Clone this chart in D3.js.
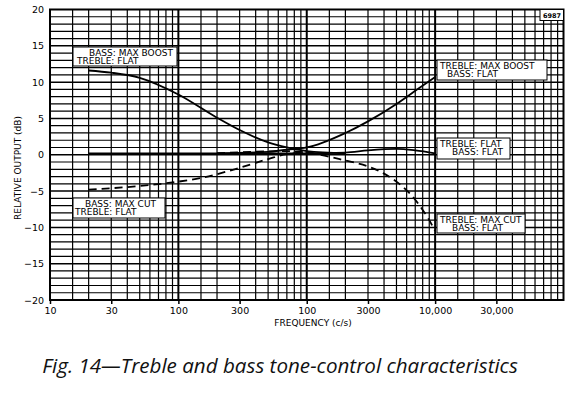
<!DOCTYPE html>
<html>
<head>
<meta charset="utf-8">
<script src="https://cdn.jsdelivr.net/npm/d3@7"></script>
<style>
  body { margin: 0; background: #fff; }
  svg { display: block; }
  .tick text { font-family: 'DejaVu Sans', sans-serif; font-size: 9.5px; fill: #000; }
  .lbl { font-family: 'DejaVu Sans', sans-serif; font-size: 9px; fill: #000; }
  .caption { font-family: 'Open Sans', sans-serif; font-style: italic; font-size: 20.6px; fill: #111; }
</style>
</head>
<body>
<div id="chart"></div>
<script>
// frequency ticks + labels (as printed)
const freqTicks = [10, 30, 100, 300, 1000, 3000, 10000, 30000];
const freqLabels = ['10', '30', '100', '300', '100', '3000', '10,000', '30,000'];
const dbTicks = [20, 15, 10, 5, 0, -5, -10, -15, -20];

// curves (Hz, dB)
const flatFreq = [20, 100, 1000, 2000, 3000, 5000, 7000, 10000];
const flatDb = [0.2, 0.2, 0.2, 0.3, 0.6, 0.8, 0.6, 0.2];

const bassBoostFreq = [20, 30, 50, 100, 200, 300, 500, 700, 1000, 2000];
const bassBoostDb = [11.6, 11.3, 10.6, 8.3, 5.1, 3.4, 1.7, 1.0, 0.5, 0.2];

const trebleBoostFreq = [200, 500, 700, 1000, 2000, 3000, 5000, 7000, 10000];
const trebleBoostDb = [0.2, 0.4, 0.7, 1.0, 3.0, 4.6, 7.0, 8.8, 10.7];

const bassCutFreq = [20, 50, 100, 150, 300, 500, 700, 1000, 1500];
const bassCutDb = [-4.8, -4.3, -3.7, -3.2, -1.8, -0.6, 0.1, 0.3, 0.1];

const trebleCutFreq = [200, 700, 1000, 2000, 3000, 4000, 5000, 6000, 7000, 8000, 9000, 10000];
const trebleCutDb = [0.2, 0.5, 0.3, -0.8, -1.6, -2.6, -3.7, -4.9, -6.2, -7.6, -9.0, -10.5];

const notes = [
  { lines: ['BASS: MAX BOOST', 'TREBLE: FLAT'], x: 73, y: 47, w: 104, h: 19, indent: [16, 4] },
  { lines: ['TREBLE: MAX BOOST', 'BASS: FLAT'], x: 437, y: 60, w: 110, h: 20, indent: [3, 10] },
  { lines: ['TREBLE: FLAT', 'BASS: FLAT'], x: 437, y: 138, w: 73, h: 21, indent: [3, 15] },
  { lines: ['BASS: MAX CUT', 'TREBLE: FLAT'], x: 73, y: 198, w: 92, h: 20, indent: [12, 2] },
  { lines: ['TREBLE: MAX CUT', 'BASS: FLAT'], x: 437, y: 214, w: 88, h: 19, indent: [3, 15] },
];

const W = 571;
const H = 393;
const plotLeft = 50;
const plotRight = 563.5;
const plotTop = 9.5;
const plotBottom = 300;

const x = d3.scaleLog().domain([10, 100000]).range([plotLeft, plotRight]);
const y = d3.scaleLinear().domain([-20, 20]).range([plotBottom, plotTop]);

const svg = d3.select('#chart').append('svg').attr('width', W).attr('height', H);
svg.append('rect').attr('width', W).attr('height', H).attr('fill', '#fff');

// grid
const minor = [];
[10, 100, 1000, 10000].forEach(dec => {
  [1.5, 2, 3, 4, 5, 6, 7, 8, 9].forEach(m => minor.push(dec * m));
});
const $grid = svg.append('g').attr('stroke', '#000');
$grid.selectAll('.v').data(minor).join('line')
  .attr('x1', d => x(d)).attr('x2', d => x(d))
  .attr('y1', plotTop).attr('y2', plotBottom)
  .attr('stroke-width', 1.2);
$grid.selectAll('.dec').data([100, 1000, 10000]).join('line')
  .attr('x1', d => x(d)).attr('x2', d => x(d))
  .attr('y1', plotTop).attr('y2', plotBottom)
  .attr('stroke-width', 2);
$grid.selectAll('.h').data(d3.range(-19, 20)).join('line')
  .attr('x1', plotLeft).attr('x2', plotRight)
  .attr('y1', d => y(d)).attr('y2', d => y(d))
  .attr('stroke-width', d => (d % 5 === 0 ? 1.5 : 1.2));

// frame
svg.append('rect')
  .attr('x', plotLeft).attr('y', plotTop)
  .attr('width', plotRight - plotLeft).attr('height', plotBottom - plotTop)
  .attr('fill', 'none').attr('stroke', '#000').attr('stroke-width', 2);

// axes
const xAxis = d3.axisBottom(x)
  .tickValues(freqTicks)
  .tickFormat((d, i) => freqLabels[i])
  .tickSize(4)
  .tickPadding(3);
svg.append('g').attr('transform', `translate(0,${plotBottom})`).call(xAxis)
  .call(g => g.select('.domain').remove())
  .call(g => g.selectAll('.tick line').attr('stroke', '#000').attr('stroke-width', 1.5));

const yAxis = d3.axisLeft(y).tickValues(dbTicks).tickSize(0).tickPadding(6);
svg.append('g').attr('transform', `translate(${plotLeft},0)`).call(yAxis)
  .call(g => g.select('.domain').remove());

svg.append('text').attr('class', 'lbl')
  .attr('transform', 'translate(21,168) rotate(-90)')
  .attr('text-anchor', 'middle')
  .text('RELATIVE  OUTPUT  (dB)');

svg.append('text').attr('class', 'lbl')
  .attr('x', 313).attr('y', 326)
  .attr('text-anchor', 'middle')
  .text('FREQUENCY  (c/s)');

// curves
const line = d3.line().x(d => x(d[0])).y(d => y(d[1])).curve(d3.curveMonotoneX);
const zip = (f, v) => f.map((d, i) => [d, v[i]]);

const series = [
  { data: zip(flatFreq, flatDb), dash: null },
  { data: zip(bassBoostFreq, bassBoostDb), dash: null },
  { data: zip(trebleBoostFreq, trebleBoostDb), dash: null },
  { data: zip(bassCutFreq, bassCutDb), dash: '8,5' },
  { data: zip(trebleCutFreq, trebleCutDb), dash: '8,5' },
];
svg.append('g').selectAll('path').data(series).join('path')
  .attr('d', d => line(d.data))
  .attr('fill', 'none')
  .attr('stroke', '#000')
  .attr('stroke-width', 1.8)
  .attr('stroke-dasharray', d => d.dash);

// label boxes
const $notes = svg.append('g').selectAll('g').data(notes).join('g')
  .attr('transform', d => `translate(${d.x},${d.y})`);
$notes.append('rect')
  .attr('width', d => d.w).attr('height', d => d.h)
  .attr('fill', '#fff').attr('stroke', '#000').attr('stroke-width', 1);
$notes.each(function (d) {
  d3.select(this).selectAll('text').data(d.lines).join('text')
    .attr('class', 'lbl')
    .attr('x', (t, i) => d.indent[i])
    .attr('y', (t, i) => 8.5 + i * 8.5)
    .text(t => t);
});

// plate number
const $num = svg.append('g').attr('transform', `translate(540,${plotTop})`);
$num.append('rect').attr('width', 23.5).attr('height', 11)
  .attr('fill', '#fff').attr('stroke', '#000').attr('stroke-width', 1);
$num.append('text').attr('x', 12).attr('y', 8.5).attr('text-anchor', 'middle')
  .style('font-family', 'DejaVu Sans').style('font-size', '6.5px').style('font-weight', 'bold')
  .text('6987');

svg.append('text').attr('class', 'caption')
  .attr('x', 280).attr('y', 373)
  .attr('text-anchor', 'middle')
  .text('Fig. 14—Treble and bass tone-control characteristics');
</script>
</body>
</html>
